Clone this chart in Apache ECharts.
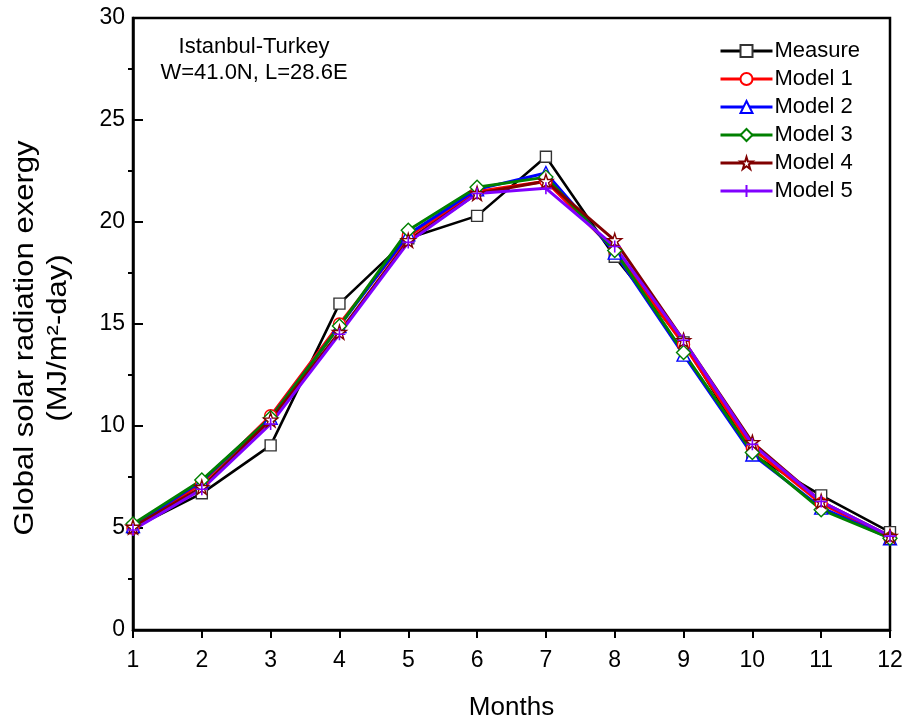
<!DOCTYPE html>
<html>
<head>
<meta charset="utf-8">
<script src="https://cdn.jsdelivr.net/npm/echarts@6/dist/echarts.min.js"></script>
<style>
  html, body { margin: 0; padding: 0; background: #fff; }
  #chart { width: 908px; height: 726px; }
</style>
</head>
<body>
<div id="chart"></div>
<script>
// Monthly global solar radiation exergy, Istanbul (MJ/m2-day)
const months = [1, 2, 3, 4, 5, 6, 7, 8, 9, 10, 11, 12];
const yTicks = [0, 5, 10, 15, 20, 25, 30];

const measure = [5.0, 6.7, 9.05, 16.0, 19.2, 20.3, 23.2, 18.3, 14.1, 8.6, 6.6, 4.8];
const model1  = [5.0, 7.2, 10.5, 15.0, 19.3, 21.5, 22.0, 18.6, 14.0, 8.9, 6.2, 4.5];
const model2  = [5.1, 7.3, 10.4, 14.9, 19.4, 21.6, 22.4, 18.5, 13.5, 8.6, 6.0, 4.5];
const model3  = [5.2, 7.35, 10.4, 14.9, 19.6, 21.7, 22.2, 18.6, 13.6, 8.7, 5.9, 4.5];
const model4  = [5.05, 7.0, 10.3, 14.6, 19.1, 21.4, 22.0, 19.1, 14.2, 9.2, 6.3, 4.6];
const model5  = [4.9, 6.9, 10.1, 14.5, 19.0, 21.4, 21.65, 18.8, 14.2, 9.1, 6.3, 4.6];

const FONT = 'Liberation Sans, Arial, sans-serif';
const STAR = 'path://M50,2 L61,36 L97,36 L68,57 L79,92 L50,71 L21,92 L32,57 L3,36 L39,36 Z';
const PLUS = 'path://M50,0 L50,100 M0,50 L100,50';

function pairs(vals) {
  return months.map((m, i) => [m, vals[i]]);
}

function lineSeries(name, vals, color, symbol, size, width) {
  return {
    name: name,
    type: 'line',
    data: pairs(vals),
    symbol: symbol,
    symbolSize: size,
    showAllSymbol: true,
    lineStyle: { color: color, width: width },
    itemStyle: { color: '#fff', borderColor: color, borderWidth: 1.4 },
    emphasis: { disabled: true },
    animation: false,
    z: 2
  };
}

const series = [
  lineSeries('Measure', measure, '#000000', 'rect', 11, 2.6),
  lineSeries('Model 1', model1, '#ff0000', 'circle', 12, 3),
  lineSeries('Model 2', model2, '#0000ff', 'triangle', 13, 3),
  lineSeries('Model 3', model3, '#008000', 'diamond', 14, 3),
  lineSeries('Model 4', model4, '#800000', STAR, 14, 3),
  lineSeries('Model 5', model5, '#8000ff', PLUS, 12, 3)
];
series[0].itemStyle.borderColor = '#333';
series[5].itemStyle = { color: '#8000ff', borderColor: '#8000ff', borderWidth: 1.6 };

const chart = echarts.init(document.getElementById('chart'), null, { renderer: 'canvas' });

chart.setOption({
  backgroundColor: '#fff',
  animation: false,
  grid: {
    left: 133, right: 18, top: 18, bottom: 92,
    show: true, borderColor: '#000', borderWidth: 2.5, backgroundColor: 'transparent'
  },
  legend: {
    orient: 'vertical',
    left: 714, top: 35,
    itemWidth: 52, itemHeight: 15, itemGap: 6,
    lineStyle: { width: 3 },
    textStyle: { fontFamily: FONT, fontSize: 22, color: '#000', lineHeight: 21, padding: [0, 0, 0, -3] },
    data: series.map(s => s.name)
  },
  xAxis: {
    type: 'value',
    min: 1, max: 12, interval: 1,
    name: 'Months',
    nameLocation: 'middle',
    nameGap: 65,
    nameTextStyle: { fontFamily: FONT, fontSize: 26, color: '#000' },
    axisLine: { show: true, lineStyle: { color: '#000', width: 2.5 } },
    axisTick: { show: true, inside: false, length: 8, lineStyle: { color: '#000', width: 2 } },
    axisLabel: { fontFamily: FONT, fontSize: 23, color: '#000', margin: 19 },
    splitLine: { show: false }
  },
  yAxis: {
    type: 'value',
    min: yTicks[0], max: yTicks[yTicks.length - 1], interval: 5,
    axisLine: { show: true, lineStyle: { color: '#000', width: 2.5 } },
    axisTick: { show: true, inside: true, length: 10, lineStyle: { color: '#000', width: 2 } },
    minorTick: { show: true, splitNumber: 2, length: -5, lineStyle: { color: '#000', width: 2 } },
    axisLabel: { fontFamily: FONT, fontSize: 23, color: '#000', margin: 8 },
    splitLine: { show: false }
  },
  graphic: [
    {
      type: 'text',
      x: 254, y: 60,
      style: {
        text: 'Istanbul-Turkey\nW=41.0N, L=28.6E',
        font: '22px ' + FONT,
        fill: '#000',
        textAlign: 'center',
        textVerticalAlign: 'middle',
        lineHeight: 26
      }
    },
    {
      type: 'text',
      x: 42, y: 338,
      rotation: Math.PI / 2,
      scaleX: 1.15,
      style: {
        text: 'Global solar radiation exergy\n(MJ/m\u00B2-day)',
        font: '27px ' + FONT,
        fill: '#000',
        textAlign: 'center',
        textVerticalAlign: 'middle',
        lineHeight: 33
      }
    }
  ],
  series: series
});
</script>
</body>
</html>
